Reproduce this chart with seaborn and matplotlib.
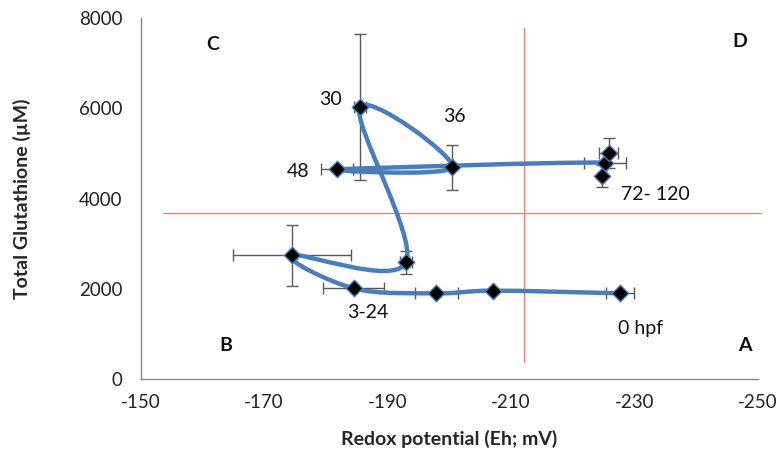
import numpy as np
import pandas as pd
import matplotlib
matplotlib.use("Agg")
import matplotlib.pyplot as plt
from matplotlib.path import Path
from matplotlib.patches import PathPatch
import seaborn as sns

# Time course, in plotting order (0 hpf -> 120 hpf)
eh = [-227.6, -207.1, -197.9, -184.5, -174.5, -193.0, -185.5, -200.5, -181.8, -225.2, -224.7, -225.8]
gsh = [1900, 1960, 1900, 2010, 2744, 2589, 6027, 4696, 4652, 4798, 4503, 5020]
eh_err = [2.3, 0, 3.5, 4.9, 9.5, 1.0, 1.0, 0, 2.6, 3.4, 0, 1.6]
gsh_err = [0, 0, 0, 0, 680, 250, 1620, 500, 0, 0, 240, 330]

point_labels = ["0 hpf", "3-24", "30", "36", "48", "72- 120"]
label_x = [-230.9, -186.8, -180.7, -200.9, -175.5, -233.3]
label_y = [1131, 1464, 6189, 5812, 4592, 4082]

quadrants = ["A", "B", "C", "D"]
quad_x = [-247.9, -163.8, -161.7, -247.1]
quad_y = [754, 754, 7409, 7476]

eh_split = -212.1
gsh_split = 3682

df = pd.DataFrame({"Eh": eh, "GSH": gsh})

sns.set_theme(style="white")
plt.rcParams["font.family"] = ["Lato", "DejaVu Sans"]
plt.rcParams["axes.unicode_minus"] = False

fig = plt.figure(figsize=(7.81, 4.58), dpi=100)
ax = fig.add_axes([0.180, 0.1725, 0.7906, 0.7875])
ax.set_xlim(-150, -250)
ax.set_ylim(0, 8000)

blue = "#4a7ebb"
grey = "#868686"

# quadrant divider lines
ax.plot([eh_split, eh_split], [377, 7786], color="#f08080", lw=1, zorder=1)
ax.plot([-153.6, -250.4], [gsh_split, gsh_split], color="#f08080", lw=1, zorder=1, clip_on=False)

# error bars
ax.errorbar(eh, gsh, xerr=eh_err, yerr=gsh_err, fmt="none", ecolor="#595959",
            elinewidth=1, capsize=4, capthick=1, zorder=2)

# smoothed connecting line (Excel-like bezier, tangents clamped on short segments)
pts = np.column_stack([eh, gsh])
scale = np.array([617.5 / 100.0, 360.7 / 8000.0])  # px per data unit, for lengths only


def clamp(off, seg):
    lo = np.linalg.norm(off * scale)
    ls = np.linalg.norm(seg * scale) * 0.5
    return off * (ls / lo) if lo > ls else off


verts = [pts[0]]
codes = [Path.MOVETO]
for i in range(len(pts) - 1):
    p0 = pts[max(i - 1, 0)]
    p1 = pts[i]
    p2 = pts[i + 1]
    p3 = pts[min(i + 2, len(pts) - 1)]
    seg = p2 - p1
    verts += [p1 + clamp((p2 - p0) / 6, seg), p2 - clamp((p3 - p1) / 6, seg), p2]
    codes += [Path.CURVE4] * 3
ax.add_patch(PathPatch(Path(verts, codes), facecolor="none", edgecolor=blue,
                       lw=3.2, capstyle="round", joinstyle="round", zorder=3))

sns.scatterplot(data=df, x="Eh", y="GSH", marker="D", s=70, color="black",
                edgecolor=blue, linewidth=1, zorder=4, ax=ax)

for t, x, y in zip(point_labels, label_x, label_y):
    ax.text(x, y, t, fontsize=14, ha="center", va="center", color="#111111")
for t, x, y in zip(quadrants, quad_x, quad_y):
    ax.text(x, y, t, fontsize=14, fontweight="bold", ha="center", va="center", color="#111111")

ax.set_xticks(np.arange(-150, -251, -20))
ax.set_yticks(np.arange(0, 8001, 2000))
ax.set_yticks(np.arange(1000, 8000, 2000), minor=True)
ax.tick_params(axis="both", which="both", direction="out", length=5, width=1,
               color=grey, labelsize=13.5, labelcolor="#222222")
ax.tick_params(axis="x", pad=6)
ax.tick_params(axis="y", pad=8)
for s in ["top", "right"]:
    ax.spines[s].set_visible(False)
for s in ["left", "bottom"]:
    ax.spines[s].set_color(grey)
    ax.spines[s].set_linewidth(1)

ax.set_xlabel("Redox potential (Eh; mV)", fontsize=14, fontweight="bold")
ax.set_ylabel("Total Glutathione (µM)", fontsize=14, fontweight="bold")
ax.xaxis.set_label_coords(0.5, -0.141)
ax.yaxis.set_label_coords(-0.177, 0.5)

fig.savefig("out.png", dpi=100)
